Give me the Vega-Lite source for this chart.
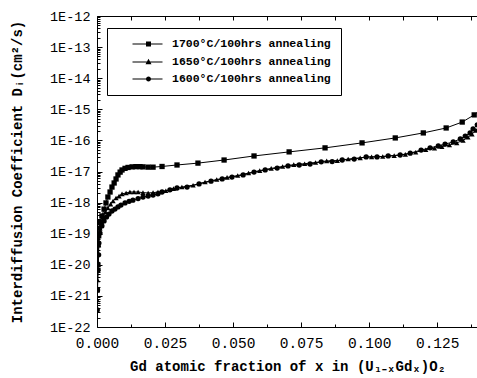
{
  "$schema": "https://vega.github.io/schema/vega-lite/v6.json",
  "width": 381,
  "height": 311,
  "autosize": "none",
  "padding": {"left": 97, "top": 16, "right": 0, "bottom": 51},
  "background": "white",
  "config": {
    "view": {"stroke": null},
    "font": "Liberation Mono",
    "axis": {"grid": false, "domainColor": "black", "tickColor": "black", "labelColor": "black", "titleColor": "black", "domainWidth": 1, "tickWidth": 1}
  },
  "datasets": {
    "d": [
      {"s": "1700°C/100hrs annealing", "x": 0.0001, "D": 1.55e-21},
      {"s": "1700°C/100hrs annealing", "x": 0.0003, "D": 1.0e-20},
      {"s": "1700°C/100hrs annealing", "x": 0.0004, "D": 4.37e-20},
      {"s": "1700°C/100hrs annealing", "x": 0.0006, "D": 8.51e-20},
      {"s": "1700°C/100hrs annealing", "x": 0.0008, "D": 1.51e-19},
      {"s": "1700°C/100hrs annealing", "x": 0.0011, "D": 2.40e-19},
      {"s": "1700°C/100hrs annealing", "x": 0.0018, "D": 3.72e-19},
      {"s": "1700°C/100hrs annealing", "x": 0.0026, "D": 6.17e-19},
      {"s": "1700°C/100hrs annealing", "x": 0.0033, "D": 9.77e-19},
      {"s": "1700°C/100hrs annealing", "x": 0.0040, "D": 1.51e-18},
      {"s": "1700°C/100hrs annealing", "x": 0.0048, "D": 2.19e-18},
      {"s": "1700°C/100hrs annealing", "x": 0.0055, "D": 3.16e-18},
      {"s": "1700°C/100hrs annealing", "x": 0.0063, "D": 4.27e-18},
      {"s": "1700°C/100hrs annealing", "x": 0.0070, "D": 5.75e-18},
      {"s": "1700°C/100hrs annealing", "x": 0.0077, "D": 7.76e-18},
      {"s": "1700°C/100hrs annealing", "x": 0.0085, "D": 9.55e-18},
      {"s": "1700°C/100hrs annealing", "x": 0.0092, "D": 1.12e-17},
      {"s": "1700°C/100hrs annealing", "x": 0.0103, "D": 1.26e-17},
      {"s": "1700°C/100hrs annealing", "x": 0.0114, "D": 1.35e-17},
      {"s": "1700°C/100hrs annealing", "x": 0.0129, "D": 1.41e-17},
      {"s": "1700°C/100hrs annealing", "x": 0.0143, "D": 1.43e-17},
      {"s": "1700°C/100hrs annealing", "x": 0.0158, "D": 1.43e-17},
      {"s": "1700°C/100hrs annealing", "x": 0.0169, "D": 1.41e-17},
      {"s": "1700°C/100hrs annealing", "x": 0.0188, "D": 1.38e-17},
      {"s": "1700°C/100hrs annealing", "x": 0.0206, "D": 1.38e-17},
      {"s": "1700°C/100hrs annealing", "x": 0.0239, "D": 1.45e-17},
      {"s": "1700°C/100hrs annealing", "x": 0.0294, "D": 1.62e-17},
      {"s": "1700°C/100hrs annealing", "x": 0.0371, "D": 1.86e-17},
      {"s": "1700°C/100hrs annealing", "x": 0.0467, "D": 2.34e-17},
      {"s": "1700°C/100hrs annealing", "x": 0.0577, "D": 3.16e-17},
      {"s": "1700°C/100hrs annealing", "x": 0.0706, "D": 4.27e-17},
      {"s": "1700°C/100hrs annealing", "x": 0.0838, "D": 5.75e-17},
      {"s": "1700°C/100hrs annealing", "x": 0.0974, "D": 8.32e-17},
      {"s": "1700°C/100hrs annealing", "x": 0.1096, "D": 1.20e-16},
      {"s": "1700°C/100hrs annealing", "x": 0.1199, "D": 1.74e-16},
      {"s": "1700°C/100hrs annealing", "x": 0.1283, "D": 2.51e-16},
      {"s": "1700°C/100hrs annealing", "x": 0.1342, "D": 3.89e-16},
      {"s": "1700°C/100hrs annealing", "x": 0.1386, "D": 6.61e-16},
      {"s": "1700°C/100hrs annealing", "x": 0.1408, "D": 9.55e-16},

      {"s": "1650°C/100hrs annealing", "x": 0.0001, "D": 7.41e-22},
      {"s": "1650°C/100hrs annealing", "x": 0.0002, "D": 3.24e-21},
      {"s": "1650°C/100hrs annealing", "x": 0.0004, "D": 1.23e-20},
      {"s": "1650°C/100hrs annealing", "x": 0.0006, "D": 4.37e-20},
      {"s": "1650°C/100hrs annealing", "x": 0.0007, "D": 9.12e-20},
      {"s": "1650°C/100hrs annealing", "x": 0.0011, "D": 1.51e-19},
      {"s": "1650°C/100hrs annealing", "x": 0.0017, "D": 2.40e-19},
      {"s": "1650°C/100hrs annealing", "x": 0.0022, "D": 3.47e-19},
      {"s": "1650°C/100hrs annealing", "x": 0.0031, "D": 5.01e-19},
      {"s": "1650°C/100hrs annealing", "x": 0.0040, "D": 6.76e-19},
      {"s": "1650°C/100hrs annealing", "x": 0.0050, "D": 8.91e-19},
      {"s": "1650°C/100hrs annealing", "x": 0.0059, "D": 1.12e-18},
      {"s": "1650°C/100hrs annealing", "x": 0.0070, "D": 1.41e-18},
      {"s": "1650°C/100hrs annealing", "x": 0.0081, "D": 1.62e-18},
      {"s": "1650°C/100hrs annealing", "x": 0.0092, "D": 1.91e-18},
      {"s": "1650°C/100hrs annealing", "x": 0.0107, "D": 2.04e-18},
      {"s": "1650°C/100hrs annealing", "x": 0.0121, "D": 2.19e-18},
      {"s": "1650°C/100hrs annealing", "x": 0.0136, "D": 2.19e-18},
      {"s": "1650°C/100hrs annealing", "x": 0.0151, "D": 2.19e-18},
      {"s": "1650°C/100hrs annealing", "x": 0.0169, "D": 2.09e-18},
      {"s": "1650°C/100hrs annealing", "x": 0.0188, "D": 2.04e-18},
      {"s": "1650°C/100hrs annealing", "x": 0.0206, "D": 2.09e-18},
      {"s": "1650°C/100hrs annealing", "x": 0.0224, "D": 2.19e-18},
      {"s": "1650°C/100hrs annealing", "x": 0.0253, "D": 2.40e-18},
      {"s": "1650°C/100hrs annealing", "x": 0.0281, "D": 2.82e-18},
      {"s": "1650°C/100hrs annealing", "x": 0.0312, "D": 3.16e-18},
      {"s": "1650°C/100hrs annealing", "x": 0.0353, "D": 3.63e-18},
      {"s": "1650°C/100hrs annealing", "x": 0.0397, "D": 4.57e-18},
      {"s": "1650°C/100hrs annealing", "x": 0.0440, "D": 5.50e-18},
      {"s": "1650°C/100hrs annealing", "x": 0.0478, "D": 6.46e-18},
      {"s": "1650°C/100hrs annealing", "x": 0.0517, "D": 7.41e-18},
      {"s": "1650°C/100hrs annealing", "x": 0.0557, "D": 8.91e-18},
      {"s": "1650°C/100hrs annealing", "x": 0.0598, "D": 1.07e-17},
      {"s": "1650°C/100hrs annealing", "x": 0.0640, "D": 1.26e-17},
      {"s": "1650°C/100hrs annealing", "x": 0.0682, "D": 1.45e-17},
      {"s": "1650°C/100hrs annealing", "x": 0.0723, "D": 1.66e-17},
      {"s": "1650°C/100hrs annealing", "x": 0.0763, "D": 1.78e-17},
      {"s": "1650°C/100hrs annealing", "x": 0.0803, "D": 1.95e-17},
      {"s": "1650°C/100hrs annealing", "x": 0.0844, "D": 2.19e-17},
      {"s": "1650°C/100hrs annealing", "x": 0.0883, "D": 2.24e-17},
      {"s": "1650°C/100hrs annealing", "x": 0.0923, "D": 2.51e-17},
      {"s": "1650°C/100hrs annealing", "x": 0.0967, "D": 2.75e-17},
      {"s": "1650°C/100hrs annealing", "x": 0.1009, "D": 2.95e-17},
      {"s": "1650°C/100hrs annealing", "x": 0.1050, "D": 3.02e-17},
      {"s": "1650°C/100hrs annealing", "x": 0.1092, "D": 3.24e-17},
      {"s": "1650°C/100hrs annealing", "x": 0.1133, "D": 3.55e-17},
      {"s": "1650°C/100hrs annealing", "x": 0.1171, "D": 4.17e-17},
      {"s": "1650°C/100hrs annealing", "x": 0.1208, "D": 5.01e-17},
      {"s": "1650°C/100hrs annealing", "x": 0.1240, "D": 5.62e-17},
      {"s": "1650°C/100hrs annealing", "x": 0.1267, "D": 6.31e-17},
      {"s": "1650°C/100hrs annealing", "x": 0.1295, "D": 7.08e-17},
      {"s": "1650°C/100hrs annealing", "x": 0.1322, "D": 8.32e-17},
      {"s": "1650°C/100hrs annealing", "x": 0.1345, "D": 1.0e-16},
      {"s": "1650°C/100hrs annealing", "x": 0.1363, "D": 1.26e-16},
      {"s": "1650°C/100hrs annealing", "x": 0.1378, "D": 1.58e-16},
      {"s": "1650°C/100hrs annealing", "x": 0.1392, "D": 2.09e-16},
      {"s": "1650°C/100hrs annealing", "x": 0.1400, "D": 2.40e-16},

      {"s": "1600°C/100hrs annealing", "x": 0.0001, "D": 3.55e-22},
      {"s": "1600°C/100hrs annealing", "x": 0.0002, "D": 1.55e-21},
      {"s": "1600°C/100hrs annealing", "x": 0.0004, "D": 6.76e-21},
      {"s": "1600°C/100hrs annealing", "x": 0.0006, "D": 2.09e-20},
      {"s": "1600°C/100hrs annealing", "x": 0.0007, "D": 5.01e-20},
      {"s": "1600°C/100hrs annealing", "x": 0.0011, "D": 1.05e-19},
      {"s": "1600°C/100hrs annealing", "x": 0.0018, "D": 1.78e-19},
      {"s": "1600°C/100hrs annealing", "x": 0.0026, "D": 2.57e-19},
      {"s": "1600°C/100hrs annealing", "x": 0.0035, "D": 3.47e-19},
      {"s": "1600°C/100hrs annealing", "x": 0.0044, "D": 4.27e-19},
      {"s": "1600°C/100hrs annealing", "x": 0.0055, "D": 5.37e-19},
      {"s": "1600°C/100hrs annealing", "x": 0.0066, "D": 6.17e-19},
      {"s": "1600°C/100hrs annealing", "x": 0.0077, "D": 7.24e-19},
      {"s": "1600°C/100hrs annealing", "x": 0.0088, "D": 8.32e-19},
      {"s": "1600°C/100hrs annealing", "x": 0.0103, "D": 9.77e-19},
      {"s": "1600°C/100hrs annealing", "x": 0.0118, "D": 1.10e-18},
      {"s": "1600°C/100hrs annealing", "x": 0.0132, "D": 1.20e-18},
      {"s": "1600°C/100hrs annealing", "x": 0.0151, "D": 1.35e-18},
      {"s": "1600°C/100hrs annealing", "x": 0.0169, "D": 1.51e-18},
      {"s": "1600°C/100hrs annealing", "x": 0.0188, "D": 1.62e-18},
      {"s": "1600°C/100hrs annealing", "x": 0.0206, "D": 1.74e-18},
      {"s": "1600°C/100hrs annealing", "x": 0.0224, "D": 1.91e-18},
      {"s": "1600°C/100hrs annealing", "x": 0.0239, "D": 2.19e-18},
      {"s": "1600°C/100hrs annealing", "x": 0.0268, "D": 2.57e-18},
      {"s": "1600°C/100hrs annealing", "x": 0.0294, "D": 2.95e-18},
      {"s": "1600°C/100hrs annealing", "x": 0.0331, "D": 3.16e-18},
      {"s": "1600°C/100hrs annealing", "x": 0.0375, "D": 3.98e-18},
      {"s": "1600°C/100hrs annealing", "x": 0.0419, "D": 4.90e-18},
      {"s": "1600°C/100hrs annealing", "x": 0.0460, "D": 5.75e-18},
      {"s": "1600°C/100hrs annealing", "x": 0.0496, "D": 6.61e-18},
      {"s": "1600°C/100hrs annealing", "x": 0.0537, "D": 7.76e-18},
      {"s": "1600°C/100hrs annealing", "x": 0.0577, "D": 9.55e-18},
      {"s": "1600°C/100hrs annealing", "x": 0.0618, "D": 1.12e-17},
      {"s": "1600°C/100hrs annealing", "x": 0.0662, "D": 1.29e-17},
      {"s": "1600°C/100hrs annealing", "x": 0.0702, "D": 1.51e-17},
      {"s": "1600°C/100hrs annealing", "x": 0.0743, "D": 1.62e-17},
      {"s": "1600°C/100hrs annealing", "x": 0.0783, "D": 1.74e-17},
      {"s": "1600°C/100hrs annealing", "x": 0.0824, "D": 2.04e-17},
      {"s": "1600°C/100hrs annealing", "x": 0.0864, "D": 2.09e-17},
      {"s": "1600°C/100hrs annealing", "x": 0.0901, "D": 2.34e-17},
      {"s": "1600°C/100hrs annealing", "x": 0.0945, "D": 2.51e-17},
      {"s": "1600°C/100hrs annealing", "x": 0.0989, "D": 2.95e-17},
      {"s": "1600°C/100hrs annealing", "x": 0.1029, "D": 2.95e-17},
      {"s": "1600°C/100hrs annealing", "x": 0.1070, "D": 3.16e-17},
      {"s": "1600°C/100hrs annealing", "x": 0.1114, "D": 3.39e-17},
      {"s": "1600°C/100hrs annealing", "x": 0.1151, "D": 3.89e-17},
      {"s": "1600°C/100hrs annealing", "x": 0.1191, "D": 4.90e-17},
      {"s": "1600°C/100hrs annealing", "x": 0.1224, "D": 5.75e-17},
      {"s": "1600°C/100hrs annealing", "x": 0.1254, "D": 6.61e-17},
      {"s": "1600°C/100hrs annealing", "x": 0.1279, "D": 7.59e-17},
      {"s": "1600°C/100hrs annealing", "x": 0.1309, "D": 8.91e-17},
      {"s": "1600°C/100hrs annealing", "x": 0.1335, "D": 1.12e-16},
      {"s": "1600°C/100hrs annealing", "x": 0.1353, "D": 1.38e-16},
      {"s": "1600°C/100hrs annealing", "x": 0.1371, "D": 1.74e-16},
      {"s": "1600°C/100hrs annealing", "x": 0.1382, "D": 2.34e-16},
      {"s": "1600°C/100hrs annealing", "x": 0.1397, "D": 3.16e-16}
    ]
  },
  "data": {"name": "d"},
  "resolve": {"axis": {"x": "independent", "y": "independent"}, "scale": {"shape": "independent"}},
  "layer": [
    {
      "mark": {"type": "line", "color": "black", "strokeWidth": 1, "clip": true},
      "encoding": {
        "x": {"field": "x", "type": "quantitative", "scale": {"domain": [0, 0.14], "nice": false, "zero": false}, "axis": null},
        "y": {"field": "D", "type": "quantitative", "scale": {"type": "log", "domain": [1e-22, 1e-12], "nice": false}, "axis": null},
        "detail": {"field": "s"}
      }
    },
    {
      "mark": {"type": "point", "filled": true, "color": "black", "opacity": 1, "size": 28, "clip": true},
      "encoding": {
        "x": {"field": "x", "type": "quantitative", "scale": {"domain": [0, 0.14], "nice": false, "zero": false},
          "axis": {"orient": "bottom", "values": [0, 0.025, 0.05, 0.075, 0.1, 0.125], "format": ".3f", "tickSize": -5, "labelPadding": 14, "labelFontSize": 14.5, "labelFont": "Liberation Mono", "labelFlush": false,
            "title": "Gd atomic fraction of x in (U₁₋ₓGdₓ)O₂", "titleFont": "Liberation Mono", "titleFontWeight": "bold", "titleFontSize": 14, "titlePadding": 10}},
        "y": {"field": "D", "type": "quantitative", "scale": {"type": "log", "domain": [1e-22, 1e-12], "nice": false},
          "axis": {"orient": "left", "values": [1e-22, 1e-21, 1e-20, 1e-19, 1e-18, 1e-17, 1e-16, 1e-15, 1e-14, 1e-13, 1e-12],
            "labelExpr": "'1E-' + round(-log(datum.value)/LN10)", "tickSize": -5, "labelPadding": 12, "labelFontSize": 13.5, "labelFont": "Liberation Mono", "labelFlush": false,
            "title": "Interdiffusion Coefficient  Dᵢ(cm²/s)", "titleFont": "Liberation Mono", "titleFontWeight": "bold", "titleFontSize": 14, "titlePadding": 25}},
        "shape": {"field": "s", "type": "nominal",
          "scale": {"domain": ["1700°C/100hrs annealing", "1650°C/100hrs annealing", "1600°C/100hrs annealing"], "range": ["square", "triangle-up", "circle"]},
          "legend": null}
      }
    },
    {
      "transform": [{"filter": "false"}],
      "mark": {"type": "point", "filled": true, "color": "black", "opacity": 1, "size": 100},
      "encoding": {
        "x": {"field": "x", "type": "quantitative", "scale": {"domain": [0, 0.14], "nice": false, "zero": false}, "axis": null},
        "y": {"field": "D", "type": "quantitative", "scale": {"type": "log", "domain": [1e-22, 1e-12], "nice": false}, "axis": null},
        "shape": {"field": "s", "type": "nominal",
          "scale": {"domain": ["1700°C/100hrs annealing", "1650°C/100hrs annealing", "1600°C/100hrs annealing"],
            "range": ["M1.9,-0.1H7.9V0.1H1.9ZM4.6,-0.5H5.6V0.5H4.6Z", "M1.9,-0.1H7.9V0.1H1.9ZM5.1,-0.65L5.7,0.45H4.5Z", "M1.9,-0.1H7.9V0.1H1.9ZM5.6,0A0.5,0.5 0 1,1 4.6,0A0.5,0.5 0 1,1 5.6,0Z"]},
          "legend": {"title": null, "orient": "none", "legendX": 10, "legendY": 12, "padding": 10, "strokeColor": "black", "fillColor": "white",
            "symbolSize": 100, "symbolFillColor": "black", "symbolOpacity": 1, "labelOffset": 43, "rowPadding": 5,
            "labelFont": "Liberation Mono", "labelFontWeight": "bold", "labelFontSize": 11.5, "labelColor": "black",
            "labelExpr": "datum.label + '\u00a0\u00a0\u00a0\u00a0'"}
        }
      }
    },
    {
      "mark": {"type": "point", "opacity": 0},
      "encoding": {
        "x": {"field": "x", "type": "quantitative", "scale": {"domain": [0, 0.14], "nice": false, "zero": false},
          "axis": {"orient": "top", "values": [0, 0.0125, 0.025, 0.0375, 0.05, 0.0625, 0.075, 0.0875, 0.1, 0.1125, 0.125, 0.1375], "tickSize": -4, "labels": false, "title": null}},
        "y": {"field": "D", "type": "quantitative", "scale": {"type": "log", "domain": [1e-22, 1e-12], "nice": false},
          "axis": {"orient": "left", "values": [2e-22,3e-22,4e-22,5e-22,6e-22,7e-22,8e-22,9e-22,2e-21,3e-21,4e-21,5e-21,6e-21,7e-21,8e-21,9e-21,2e-20,3e-20,4e-20,5e-20,6e-20,7e-20,8e-20,9e-20,2e-19,3e-19,4e-19,5e-19,6e-19,7e-19,8e-19,9e-19,2e-18,3e-18,4e-18,5e-18,6e-18,7e-18,8e-18,9e-18,2e-17,3e-17,4e-17,5e-17,6e-17,7e-17,8e-17,9e-17,2e-16,3e-16,4e-16,5e-16,6e-16,7e-16,8e-16,9e-16,2e-15,3e-15,4e-15,5e-15,6e-15,7e-15,8e-15,9e-15,2e-14,3e-14,4e-14,5e-14,6e-14,7e-14,8e-14,9e-14,2e-13,3e-13,4e-13,5e-13,6e-13,7e-13,8e-13,9e-13],
            "tickSize": -3, "labels": false, "domain": false, "title": null}}
      }
    },
    {
      "mark": {"type": "point", "opacity": 0},
      "encoding": {
        "x": {"field": "x", "type": "quantitative", "scale": {"domain": [0, 0.14], "nice": false, "zero": false},
          "axis": {"orient": "bottom", "values": [0.0125, 0.0375, 0.0625, 0.0875, 0.1125, 0.1375], "tickSize": -3, "labels": false, "domain": false, "title": null}},
        "y": {"field": "D", "type": "quantitative", "scale": {"type": "log", "domain": [1e-22, 1e-12], "nice": false}, "axis": null}
      }
    }
  ]
}
